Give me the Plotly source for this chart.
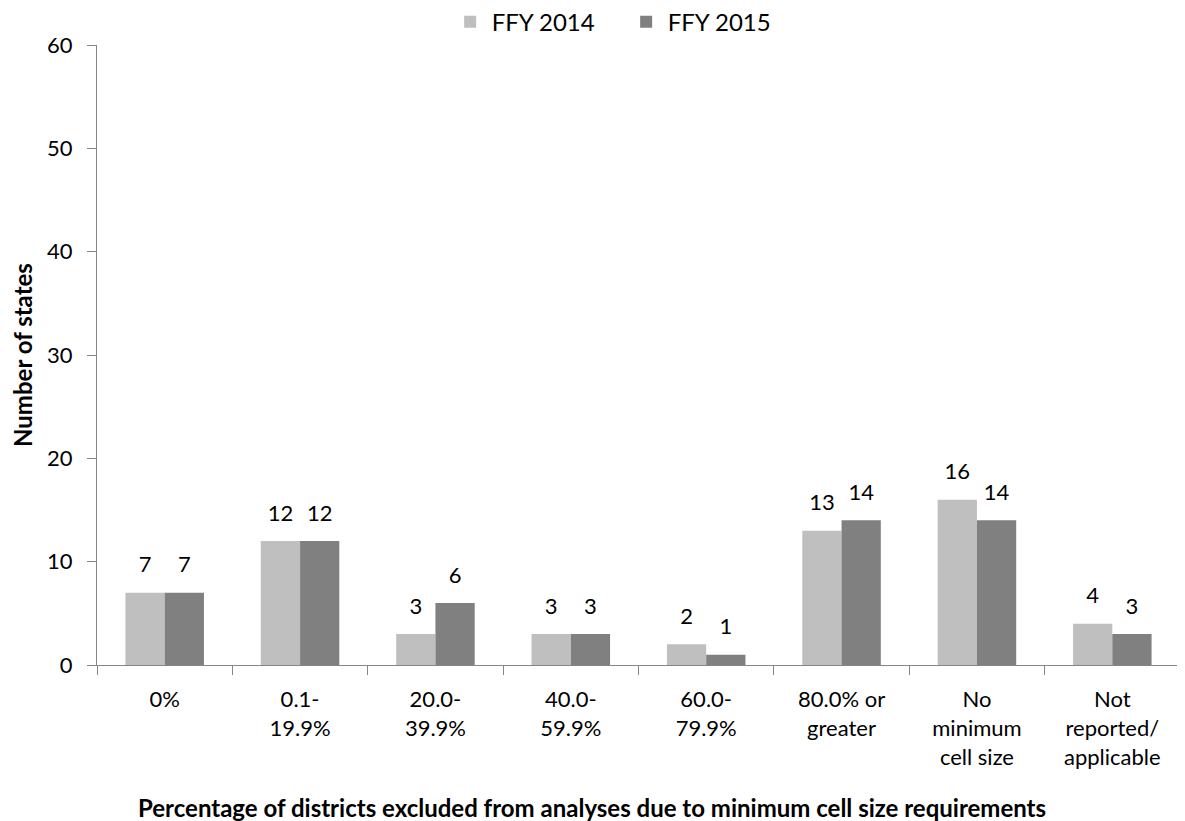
import plotly.graph_objects as go

categories = ["0%", "0.1-<br>19.9%", "20.0-<br>39.9%", "40.0-<br>59.9%", "60.0-<br>79.9%",
              "80.0% or<br>greater", "No<br>minimum<br>cell size", "Not<br>reported/<br>applicable"]
ffy2014 = [7, 12, 3, 3, 2, 13, 16, 4]
ffy2015 = [7, 12, 6, 3, 1, 14, 14, 3]
series_names = ["FFY 2014", "FFY 2015"]
y_ticks = [0, 10, 20, 30, 40, 50, 60]
x_title = "Percentage of districts excluded from analyses due to minimum cell size requirements"
y_title = "Number of states"

FONT = "Lato"
colors = ["#BFBFBF", "#808080"]

fig = go.Figure()
for name, vals, col in zip(series_names, [ffy2014, ffy2015], colors):
    fig.add_trace(go.Bar(name=name, x=categories, y=vals, marker_color=col,
                         marker_line_width=0, hoverinfo="x+y+name"))
# value labels (drawn at the bar values, grouped like the bars)
for name, vals in zip(series_names, [ffy2014, ffy2015]):
    fig.add_trace(go.Scatter(x=categories, y=vals, text=[str(v) for v in vals],
                             mode="markers+text", textposition="top center",
                             marker=dict(size=22, color="rgba(0,0,0,0)"),
                             textfont=dict(size=22, color="#000000", family=FONT),
                             showlegend=False, hoverinfo="skip", cliponaxis=False))

fig.update_layout(
    width=1177, height=813,
    barmode="group", bargap=0.42, bargroupgap=0,
    scattermode="group", scattergap=0.42,
    plot_bgcolor="white", paper_bgcolor="white",
    font=dict(family=FONT, size=22, color="#000000"),
    margin=dict(l=89, r=5, t=37, b=156, autoexpand=False),
    legend=dict(orientation="h", x=0.3247, xanchor="left", y=1.037, yanchor="middle",
                font=dict(size=24), traceorder="normal", entrywidth=128, itemwidth=33,
                bgcolor="rgba(0,0,0,0)"),
    xaxis=dict(showline=True, linecolor="#868686", linewidth=1, ticks="outside",
               tickson="boundaries", tickcolor="#868686", ticklen=9,
               tickfont=dict(size=22), ticklabelstandoff=15),
    yaxis=dict(range=[0, 60], tickvals=y_ticks, showline=True, linecolor="#868686", linewidth=1,
               ticks="outside", tickcolor="#868686", ticklen=9, showgrid=False, zeroline=False,
               tickfont=dict(size=22), ticklabelstandoff=10),
    annotations=[
        dict(text="<b>" + x_title + "</b>", xref="paper", yref="paper",
             x=0.457, y=-0.2306, xanchor="center", yanchor="middle", showarrow=False,
             font=dict(size=24, family=FONT)),
        dict(text="<b>" + y_title + "</b>", xref="paper", yref="paper", textangle=-90,
             x=-0.0693, y=0.5, xanchor="center", yanchor="middle", showarrow=False,
             font=dict(size=24, family=FONT)),
    ],
)

fig.write_html("out.html")
